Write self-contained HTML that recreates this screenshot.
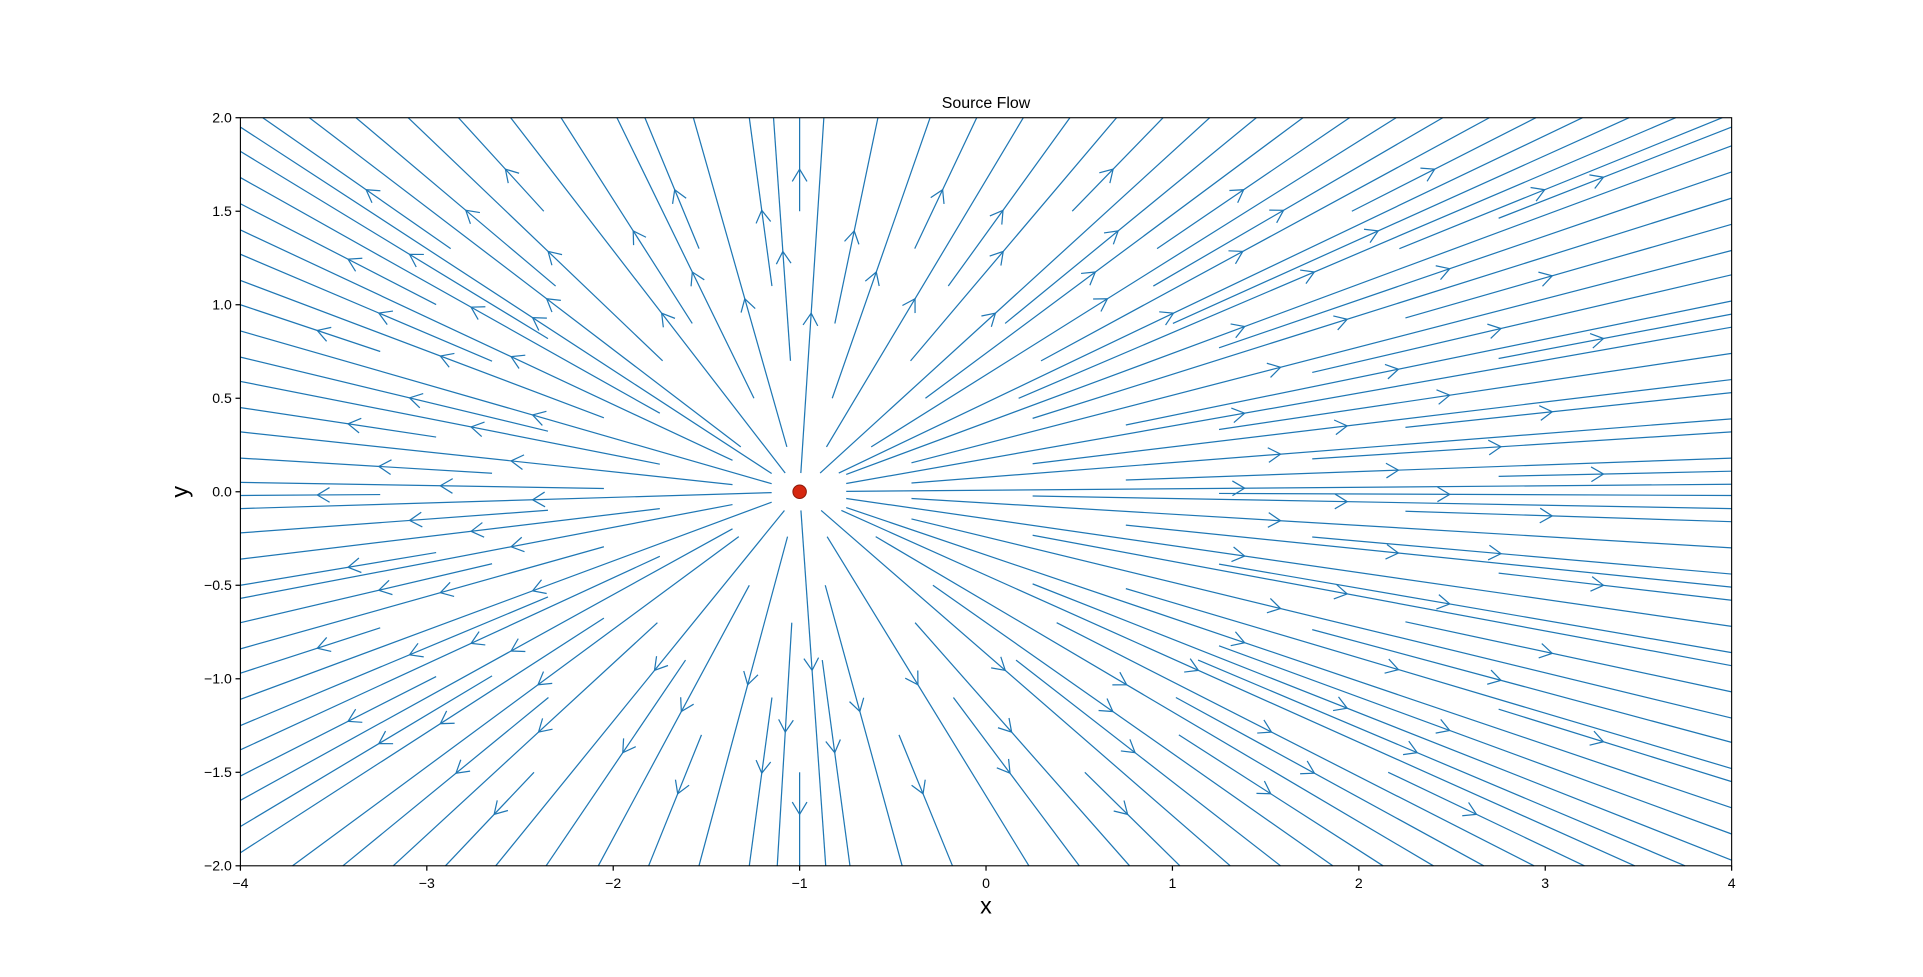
<!DOCTYPE html>
<html><head><meta charset="utf-8"><style>
body{margin:0;background:#fff;}
svg text{font-family:"Liberation Sans","DejaVu Sans",sans-serif;}
</style></head><body>
<svg id="chart" width="1923" height="972" viewBox="0 0 1568 792.6" xmlns="http://www.w3.org/2000/svg">
<rect width="1568" height="793" fill="#fff"/>
<text x="804" y="88" font-size="13" text-anchor="middle">Source Flow</text>
<g id="lines"></g>
<rect x="196" y="96" width="1216" height="610" fill="none" stroke="#000" stroke-width="0.9"/>
<g id="axes"></g>
<text x="804" y="745" font-size="19" text-anchor="middle">x</text>
<text x="153" y="401" font-size="19" text-anchor="middle" transform="rotate(-90 153 401)">y</text>
</svg>
<script>
const sourceX = -1, sourceY = 0;
const leftEdgeY = [1.95,1.82,1.68,1.54,1.40,1.27,1.13,1.0,0.86,0.72,0.59,0.45,0.32,0.18,0.05,-0.02,-0.09,-0.22,-0.36,-0.5,-0.57,-0.7,-0.84,-0.97,-1.11,-1.25,-1.38,-1.52,-1.65,-1.79,-1.93];
const rightEdgeY = [1.95,1.85,1.71,1.57,1.43,1.29,1.16,1.02,0.95,0.88,0.74,0.6,0.53,0.39,0.32,0.18,0.11,0.04,-0.02,-0.09,-0.16,-0.3,-0.44,-0.51,-0.58,-0.72,-0.86,-0.93,-1.07,-1.21,-1.34,-1.48,-1.55,-1.69,-1.83,-1.97];
const topEdgeX = [-3.88,-3.63,-3.38,-3.1,-2.83,-2.55,-2.28,-1.98,-1.83,-1.57,-1.27,-1.14,-1,-0.87,-0.58,-0.3,-0.05,0.2,0.45,0.7,0.95,1.2,1.45,1.7,1.95,2.2,2.45,2.7,2.95,3.2,3.45,3.7,3.95];
const bottomEdgeX = [-3.72,-3.45,-3.18,-2.9,-2.63,-2.36,-2.08,-1.81,-1.54,-1.27,-1.12,-1,-0.86,-0.73,-0.45,-0.18,0.23,0.5,0.77,1.04,1.31,1.58,1.86,2.13,2.4,2.67,2.94,3.21,3.48,3.75];
const xTicks = [-4,-3,-2,-1,0,1,2,3,4];
const yTicks = [-2.0,-1.5,-1.0,-0.5,0.0,0.5,1.0,1.5,2.0];

const X0=196,X1=1412,Y0=96,Y1=706;
const sx = v => X0 + (v+4)/8*(X1-X0);
const sy = v => Y0 + (2-v)/4*(Y1-Y0);
const NS="http://www.w3.org/2000/svg";
const lines=document.getElementById('lines');
const col="#1f77b4";
const starts=[0.05,0.45,0.25,0.65,0.12,0.55,0.35,0.75];
let idx=0;
function ray(ex,ey){
  const x0=sx(sourceX), y0=sy(sourceY), x1=sx(ex), y1=sy(ey);
  const dx=x1-x0, dy=y1-y0, L=Math.hypot(dx,dy), ux=dx/L, uy=dy/L;
  const f=starts[idx%starts.length]; idx++;
  const sxp=x0+dx*f, syp=y0+dy*f;
  const p=document.createElementNS(NS,'line');
  
  
  p.setAttribute('x1',sxp);p.setAttribute('y1',syp);p.setAttribute('x2',x1);p.setAttribute('y2',y1);
  p.setAttribute('stroke',col);p.setAttribute('stroke-width','1');
  lines.appendChild(p);
  const af=f+(1-f)*0.45;
  const ax=x0+dx*af, ay=y0+dy*af, s=10, w=6;
  const a=document.createElementNS(NS,'polyline');
  
  
  a.setAttribute('points',`${ax-ux*s-uy*w},${ay-uy*s+ux*w} ${ax},${ay} ${ax-ux*s+uy*w},${ay-uy*s-ux*w}`);
  a.setAttribute('fill','none');a.setAttribute('stroke',col);a.setAttribute('stroke-width','1');
  lines.appendChild(a);
}
leftEdgeY.forEach(v=>ray(-4,v));
rightEdgeY.forEach(v=>ray(4,v));
topEdgeX.forEach(v=>ray(v,2));
bottomEdgeX.forEach(v=>ray(v,-2));
const dot=document.createElementNS(NS,'circle');


dot.setAttribute('cx',sx(sourceX));dot.setAttribute('cy',sy(sourceY));dot.setAttribute('r','5.5');
dot.setAttribute('fill','#d62710');dot.setAttribute('stroke','#8b1a0a');dot.setAttribute('stroke-width','0.8');
lines.appendChild(dot);

const axes=document.getElementById('axes');
xTicks.forEach(t=>{
  const x=sx(t);
  const l=document.createElementNS(NS,'line');
  
  
  l.setAttribute('x1',x);l.setAttribute('x2',x);l.setAttribute('y1',Y1);l.setAttribute('y2',Y1+4);l.setAttribute('stroke','#000');
  axes.appendChild(l);
  const tx=document.createElementNS(NS,'text');
  
  
  tx.setAttribute('x',x);tx.setAttribute('y',Y1+18);tx.setAttribute('font-size','11.5');tx.setAttribute('text-anchor','middle');
  tx.textContent=(t<0?'\u2212'+(-t):t);
  axes.appendChild(tx);
});
yTicks.forEach(t=>{
  const y=sy(t);
  const l=document.createElementNS(NS,'line');
  
  
  l.setAttribute('x1',X0-4);l.setAttribute('x2',X0);l.setAttribute('y1',y);l.setAttribute('y2',y);l.setAttribute('stroke','#000');
  axes.appendChild(l);
  const tx=document.createElementNS(NS,'text');
  
  
  tx.setAttribute('x',X0-7);tx.setAttribute('y',y+4);tx.setAttribute('font-size','11.5');tx.setAttribute('text-anchor','end');
  tx.textContent=(t<0?'\u2212'+(-t).toFixed(1):t.toFixed(1));
  axes.appendChild(tx);
});
</script>
</body></html>
